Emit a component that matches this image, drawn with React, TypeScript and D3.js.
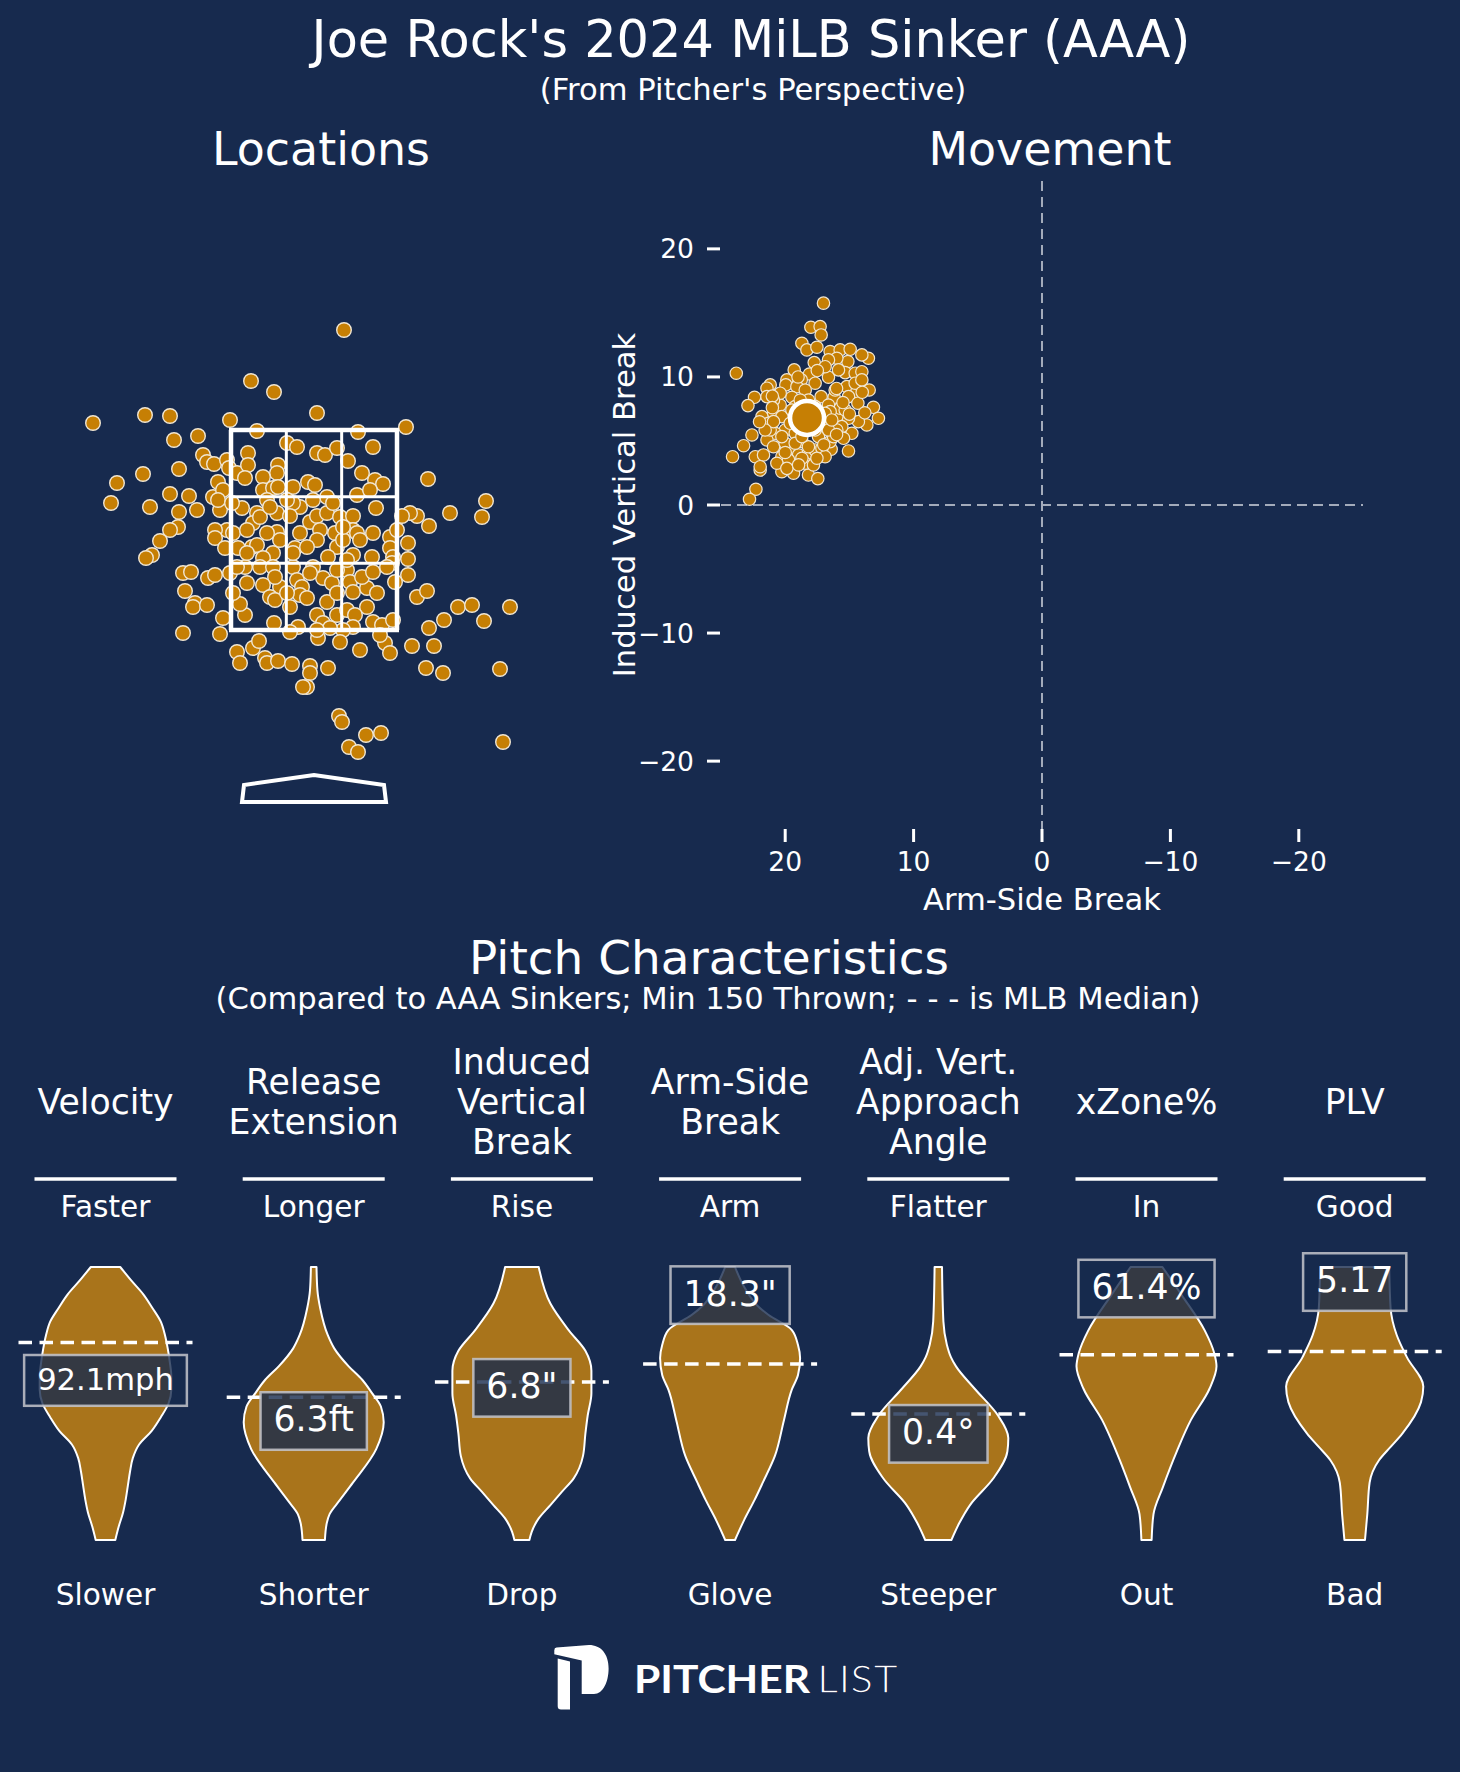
import React from 'react';
import * as d3 from 'd3';

const W = 1460;
const H = 1772;
const BG = '#172A4E';
const DOT = '#C67F04';
const VIOLIN = '#A9741B';
const FONT = "'DejaVu Sans', sans-serif";
const K = 1.02; // font size factor

// ---------- text ----------
const titleText = "Joe Rock's 2024 MiLB Sinker (AAA)";
const subtitleText = "(From Pitcher's Perspective)";
const sectionTitle = 'Pitch Characteristics';
const sectionSubtitle = '(Compared to AAA Sinkers; Min 150 Thrown; - - - is MLB Median)';

// ---------- Locations (plate_x, plate_z in feet) ----------
const locationPitches: [number, number][] = [
  [0.30, 4.50], [-0.63, 3.99], [-0.40, 3.88], [-2.21, 3.57], [-1.69, 3.65], [-1.44, 3.64], [0.03, 3.67],
  [-0.84, 3.60], [0.92, 3.53], [-0.57, 3.49], [0.44, 3.48], [-1.40, 3.40], [-1.16, 3.44], [-1.11, 3.25],
  [-1.07, 3.18], [-1.00, 3.16], [-1.71, 3.06], [-1.35, 3.11], [-1.97, 2.97], [-2.03, 2.77], [-1.64, 2.73],
  [-1.44, 2.86], [-1.25, 2.84], [-1.17, 2.70], [-1.35, 2.68], [-1.36, 2.53], [-1.44, 2.50], [-1.54, 2.39],
  [-1.62, 2.25], [-1.68, 2.22], [1.14, 3.01], [1.72, 2.79], [1.68, 2.63], [1.36, 2.67], [1.15, 2.54],
  [1.03, 2.64], [0.96, 2.67], [0.88, 2.64], [0.94, 2.37], [0.94, 2.21], [0.94, 2.05], [1.03, 1.83],
  [1.13, 1.89], [1.44, 1.73], [1.58, 1.75], [1.96, 1.73], [1.70, 1.59], [1.30, 1.60], [1.15, 1.52],
  [0.98, 1.34], [1.20, 1.34], [1.12, 1.12], [1.29, 1.07], [1.86, 1.11], [1.89, 0.38], [-1.31, 2.07],
  [-1.23, 2.08], [-1.29, 1.89], [-1.19, 1.77], [-1.21, 1.73], [-1.07, 1.75], [-1.31, 1.47], [-0.94, 1.46],
  [-0.91, 1.62], [-0.69, 1.65], [-0.74, 1.76], [-0.77, 1.28], [-0.74, 1.17], [-0.61, 1.32], [-0.55, 1.39],
  [-0.49, 1.22], [-0.47, 1.17], [-0.36, 1.19], [-0.22, 1.16], [-0.04, 1.14], [-0.04, 1.07], [-0.07, 0.93],
  [-0.11, 0.93], [0.14, 1.12], [0.46, 1.30], [0.71, 1.37], [0.76, 1.27], [0.25, 0.64], [0.28, 0.58],
  [0.52, 0.45], [0.67, 0.47], [0.35, 0.33], [0.44, 0.28], [-1.06, 2.02], [-0.99, 2.05], [-1.01, 2.83],
  [-0.96, 2.98], [-0.91, 2.90], [-0.87, 3.20], [-0.85, 3.12], [-0.77, 3.07], [-0.66, 3.27], [-0.66, 3.15],
  [-0.69, 3.02], [-0.27, 3.37], [-0.17, 3.33], [0.03, 3.27], [0.11, 3.25], [0.23, 3.32], [0.34, 3.19],
  [0.48, 3.07], [0.59, 3.33], [0.61, 3.00], [0.69, 2.96], [0.62, 2.72], [-0.36, 3.15], [-0.37, 3.07],
  [-0.51, 3.03], [-0.51, 2.90], [-0.41, 2.92], [-0.36, 2.93], [-0.21, 2.93], [-0.06, 2.98], [0.01, 2.95],
  [0.13, 2.83], [0.43, 2.85], [0.56, 2.90], [-0.14, 2.73], [-0.04, 2.58], [0.03, 2.64], [0.13, 2.67],
  [0.26, 2.63], [0.39, 2.64], [-0.47, 2.80], [-0.57, 2.67], [-0.72, 2.72], [-0.94, 2.70], [-0.96, 2.80],
  [-0.82, 2.77], [-0.61, 2.57], [-0.37, 2.67], [-0.37, 2.48], [-0.62, 2.33], [-0.57, 2.35], [-0.87, 2.50],
  [-0.99, 2.50], [-0.99, 2.42], [-0.89, 2.32], [-0.76, 2.32], [-0.81, 2.47], [-0.67, 2.50], [-0.47, 2.47],
  [-0.14, 2.47], [0.06, 2.50], [0.21, 2.47], [0.39, 2.50], [0.43, 2.47], [0.59, 2.47], [0.76, 2.43],
  [0.83, 2.50], [-0.19, 2.32], [0.03, 2.40], [0.23, 2.33], [0.29, 2.40], [0.39, 2.25], [0.58, 2.23],
  [0.76, 2.32], [0.79, 2.23], [0.78, 2.17], [-0.41, 2.27], [-0.51, 2.22], [-0.54, 2.13], [-0.41, 2.13],
  [-0.21, 2.13], [-0.17, 2.00], [-0.12, 1.93], [-0.14, 1.85], [-0.07, 1.82], [-0.34, 1.93], [-0.39, 2.03],
  [-0.51, 1.95], [-0.44, 1.83], [-0.39, 1.80], [-0.27, 1.87], [0.09, 2.02], [0.18, 1.97], [-0.01, 2.13],
  [0.14, 2.23], [0.33, 2.10], [0.36, 1.98], [0.39, 1.88], [0.53, 1.92], [0.48, 2.03], [0.59, 2.08],
  [0.81, 1.98], [0.53, 1.73], [0.73, 2.13], [0.23, 2.10], [0.13, 1.78], [0.03, 1.65], [0.09, 1.57],
  [0.04, 1.42], [0.23, 1.65], [0.33, 1.70], [0.41, 1.65], [0.39, 1.53], [0.29, 1.50], [0.26, 1.38],
  [0.16, 1.52], [0.03, 1.50], [-0.16, 1.53], [-0.24, 1.48], [-0.40, 1.57], [0.59, 1.58], [0.68, 1.55],
  [0.79, 1.60], [0.66, 1.45], [-0.21, 2.77], [-0.24, 2.64], [-0.07, 2.33], [-0.69, 2.13], [-0.84, 2.07],
  [-0.77, 2.13], [-0.54, 2.63], [-0.44, 2.73], [-0.27, 2.80], [-0.01, 2.80], [0.19, 2.77], [0.29, 2.53],
  [0.46, 2.40], [-0.34, 2.40], [-0.67, 2.27], [-0.21, 2.27], [-0.04, 2.07], [0.23, 1.87], [0.63, 1.87],
  [-0.24, 1.73], [0.33, 2.20], [-0.67, 1.97], [-0.81, 1.87],
];
const zoneX = [-0.83, 0.83];
const zoneZ = [1.5, 3.5];
const plateOutline: [number, number][] = [[-0.72, -0.22], [-0.7, -0.05], [0, 0.05], [0.7, -0.05], [0.72, -0.22]];

// ---------- Movement (arm-side break, induced vertical break in inches) ----------
const movementPitches: [number, number][] = [
  [17.02, 15.76], [18.0, 13.88], [17.28, 13.93], [17.2, 13.28], [18.7, 12.63], [18.31, 12.11], [17.53, 12.32],
  [16.5, 11.98], [15.72, 12.11], [14.94, 12.16], [13.52, 11.46], [14.03, 11.72], [15.12, 11.2], [15.98, 11.46],
  [16.63, 11.33], [17.74, 11.12], [19.3, 10.55], [18.11, 10.23], [16.63, 9.98], [15.33, 10.34], [14.55, 10.29],
  [14.03, 10.41], [23.81, 10.29], [15.85, 10.55], [19.87, 9.77], [18.75, 9.77], [17.67, 9.51], [21.17, 9.38],
  [21.42, 9.12], [22.39, 8.41], [22.9, 7.76], [19.95, 9.38], [19.09, 9.24], [18.44, 8.98], [19.48, 8.41],
  [17.2, 8.46], [16.19, 8.41], [15.2, 9.24], [14.42, 8.85], [13.46, 8.98], [15.07, 8.46], [14.34, 7.95],
  [13.13, 7.63], [12.74, 6.77], [13.64, 6.25], [14.3, 6.51], [14.81, 5.6], [15.07, 6.77], [15.98, 6.9],
  [15.59, 6.12], [21.81, 6.9], [20.91, 7.21], [20.39, 7.81], [21.3, 6.38], [20.0, 5.86], [20.78, 5.6],
  [21.42, 5.08], [22.59, 5.47], [23.24, 4.63], [24.1, 3.77], [22.33, 3.77], [21.69, 3.91], [20.26, 3.77],
  [19.48, 4.43], [18.96, 3.91], [18.19, 4.04], [17.67, 4.3], [16.42, 4.35], [16.5, 4.95], [15.07, 4.22],
  [20.26, 2.6], [19.35, 2.48], [18.19, 2.34], [17.46, 2.06], [21.95, 2.73], [21.95, 2.99], [22.28, 1.23],
  [22.78, 0.45], [20.91, 4.55], [20.0, 4.82], [18.7, 4.95], [17.41, 5.34], [16.24, 5.34], [15.72, 7.55],
  [16.63, 7.81], [17.02, 6.51], [17.67, 5.86], [19.22, 5.6], [19.74, 3.52], [18.44, 3.26], [17.8, 3.13],
  [20.65, 3.26], [21.17, 5.86], [19.22, 7.68], [20.26, 6.9], [15.33, 7.42], [16.5, 7.29], [18.83, 6.51],
  [17.14, 4.43], [18.7, 3.65], [15.98, 5.86], [16.63, 5.86], [15.46, 5.21], [14.55, 9.51], [14.03, 9.77],
  [16.89, 10.8], [16.11, 8.98], [18.19, 8.2], [18.83, 8.2], [17.67, 7.68], [20.39, 8.73], [20.91, 8.2],
  [21.42, 8.46], [19.22, 4.82], [18.19, 4.55], [19.61, 6.38], [20.91, 6.51], [21.56, 5.86], [16.89, 3.77],
  [17.53, 3.65], [19.87, 2.86], [18.96, 3.13], [19.48, 7.42], [16.89, 7.16], [18.7, 5.34], [20.26, 5.34],
  [16.37, 6.64], [16.0, 9.1], [15.5, 8.0], [17.5, 10.5], [19.0, 10.0], [21.0, 8.5], [20.0, 4.1],
  [17.0, 4.7], [16.0, 5.5], [15.0, 7.1], [14.0, 8.8], [13.8, 7.2], [22.0, 6.5], [21.0, 7.6],
];
const movementMean: [number, number] = [18.3, 6.8];
const movementTicks = [20, 10, 0, -10, -20];
const movementXLabel = 'Arm-Side Break';
const movementYLabel = 'Induced Vertical Break';

// ---------- Pitch characteristics ----------
const metricNames = [
  ['Velocity'], ['Release', 'Extension'], ['Induced', 'Vertical', 'Break'], ['Arm-Side', 'Break'],
  ['Adj. Vert.', 'Approach', 'Angle'], ['xZone%'], ['PLV'],
];
const topLabels = ['Faster', 'Longer', 'Rise', 'Arm', 'Flatter', 'In', 'Good'];
const bottomLabels = ['Slower', 'Shorter', 'Drop', 'Glove', 'Steeper', 'Out', 'Bad'];
const playerValues = [92.1, 6.3, 6.8, 18.3, 0.4, 61.4, 5.17];
const valueLabels = ['92.1mph', '6.3ft', '6.8"', '18.3"', '0.4°', '61.4%', '5.17'];
const medianValues = [93.9, 6.47, 7.35, 14.14, 0.53, 56.5, 4.57];
const rangeTop = [97.5, 7.4, 18, 20, 1.5, 63, 5.3];
const rangeBottom = [84.5, 5.45, -7.3, 3.5, -0.3, 42.75, 2.94];
// density profiles: [fraction from max (0) to min (1), relative density]
const velocityProfile: [number, number][] = [[0, .21], [.05, .37], [.1, .54], [.15, .67], [.2, .79], [.25, .85], [.3, .89], [.35, .92], [.4, .94], [.45, .94], [.5, .9], [.55, .79], [.6, .66], [.65, .48], [.7, .39], [.75, .35], [.8, .32], [.85, .29], [.9, .25], [.95, .19], [1, .14]];
const releaseProfile: [number, number][] = [[0, .04], [.085, .053], [.151, .093], [.249, .2], [.298, .293], [.364, .5], [.413, .693], [.462, .833], [.511, .96], [.569, 1], [.667, .893], [.79, .56], [.856, .367], [.905, .227], [.938, .187], [1, .16]];
const ivbProfile: [number, number][] = [[0, .24], [.134, .407], [.233, .673], [.307, .907], [.38, .993], [.462, .993], [.544, .94], [.61, .907], [.692, .873], [.774, .74], [.823, .573], [.872, .407], [.921, .24], [.97, .14], [1, .107]];
const armProfile: [number, number][] = [[0, .07], [.077, .21], [.139, .38], [.176, .55], [.23, .88], [.286, .97], [.333, 1], [.396, .97], [.45, .88], [.56, .77], [.692, .64], [.788, .47], [.853, .35], [.927, .2], [1, .07]];
const adjProfile: [number, number][] = [[0, .053], [.2, .073], [.282, .12], [.33, .18], [.364, .253], [.446, .52], [.544, .853], [.626, 1], [.675, .987], [.774, .787], [.872, .453], [.938, .3], [1, .187]];
const xzoneProfile: [number, number][] = [[0, .227], [.102, .5], [.233, .833], [.315, .967], [.364, 1], [.446, .9], [.561, .633], [.675, .433], [.807, .233], [.905, .1], [1, .073]];
const plvProfile: [number, number][] = [[0, .493], [.151, .513], [.249, .6], [.331, .747], [.438, .98], [.495, .947], [.61, .68], [.659, .513], [.708, .347], [.79, .213], [.905, .18], [1, .147]];
const violinProfiles = [velocityProfile, releaseProfile, ivbProfile, armProfile, adjProfile, xzoneProfile, plvProfile];

// ---------- helpers ----------
let measureCtx: CanvasRenderingContext2D | null = null;
function textWidth(s: string, size: number): number {
  if (!measureCtx && typeof document !== 'undefined') {
    measureCtx = document.createElement('canvas').getContext('2d');
  }
  if (!measureCtx) return s.length * size * 0.6;
  measureCtx.font = `${size}px "DejaVu Sans"`;
  return measureCtx.measureText(s).width;
}

function Locations() {
  const x = d3.scaleLinear().domain([-1, 1]).range([214, 414]);
  const z = d3.scaleLinear().domain([0, 4]).range([780, 380]);
  const xs = d3.range(4).map((i) => zoneX[0] + (i * (zoneX[1] - zoneX[0])) / 3);
  const zs = d3.range(4).map((i) => zoneZ[0] + (i * (zoneZ[1] - zoneZ[0])) / 3);
  const plateLine = d3.line<[number, number]>().x((d) => x(d[0])).y((d) => z(d[1]));
  return (
    <g>
      {locationPitches.map((p, i) => (
        <circle key={i} cx={x(p[0])} cy={z(p[1])} r={7.3} fill={DOT} stroke="#f1e6d2" strokeWidth={1.4} />
      ))}
      {xs.map((v, i) => (
        <line key={'vx' + i} x1={x(v)} x2={x(v)} y1={z(zoneZ[0])} y2={z(zoneZ[1])} stroke="#fff" strokeWidth={i === 0 || i === 3 ? 4.5 : 3} />
      ))}
      {zs.map((v, i) => (
        <line key={'hz' + i} x1={x(zoneX[0]) - 2} x2={x(zoneX[1]) + 2} y1={z(v)} y2={z(v)} stroke="#fff" strokeWidth={i === 0 || i === 3 ? 4.5 : 3} />
      ))}
      <path d={plateLine(plateOutline) + 'Z'} fill="none" stroke="#fff" strokeWidth={4} strokeLinejoin="miter" />
    </g>
  );
}

function Movement() {
  const x = d3.scaleLinear().domain([25, -25]).range([721, 1363]);
  const y = d3.scaleLinear().domain([-25.3, 25.3]).range([829, 181]);
  const dash = '10,6';
  const fmt = (t: number) => d3.format('d')(t).replace('-', '\u2212');
  return (
    <g fontFamily={FONT} fill="#fff">
      <line x1={x(25)} x2={x(-25)} y1={y(0)} y2={y(0)} stroke="#a3abbb" strokeWidth={2} strokeDasharray={dash} />
      <line x1={x(0)} x2={x(0)} y1={y(25.3)} y2={y(-25.3)} stroke="#a3abbb" strokeWidth={2} strokeDasharray={dash} />
      {movementTicks.map((t) => (
        <g key={'y' + t}>
          <line x1={707} x2={720} y1={y(t)} y2={y(t)} stroke="#fff" strokeWidth={3} />
          <text x={694} y={y(t) + 9.5} fontSize={26 * K} textAnchor="end">{fmt(t)}</text>
        </g>
      ))}
      {movementTicks.map((t) => (
        <g key={'x' + t}>
          <line x1={x(t)} x2={x(t)} y1={829} y2={842} stroke="#fff" strokeWidth={3} />
          <text x={x(t)} y={871} fontSize={26 * K} textAnchor="middle">{fmt(t)}</text>
        </g>
      ))}
      <text x={x(0)} y={910} fontSize={30 * K} textAnchor="middle">{movementXLabel}</text>
      <text transform={`translate(635, ${y(0)}) rotate(-90)`} fontSize={30 * K} textAnchor="middle">{movementYLabel}</text>
      {movementPitches.map((p, i) => (
        <circle key={i} cx={x(p[0])} cy={y(p[1])} r={6.2} fill={DOT} stroke="#f1e6d2" strokeWidth={1.2} />
      ))}
      <circle cx={x(movementMean[0])} cy={y(movementMean[1])} r={17} fill={DOT} stroke="#fff" strokeWidth={4.5} />
    </g>
  );
}

function Characteristics() {
  const cxScale = d3.scalePoint<number>().domain(d3.range(7)).range([1.4, 1458.8]).padding(0.5);
  const top = 1267;
  const bottom = 1540;
  const tScale = d3.scaleLinear().domain([0, 1]).range([top, bottom]);
  const wScale = d3.scaleLinear().domain([0, 1]).range([0, 70]);
  return (
    <g fontFamily={FONT} fill="#fff">
      <text x={709} y={974} fontSize={46 * K} textAnchor="middle">{sectionTitle}</text>
      <text x={708} y={1009} fontSize={30 * K} textAnchor="middle">{sectionSubtitle}</text>
      {metricNames.map((lines, i) => {
        const cx = cxScale(i) as number;
        const vScale = d3.scaleLinear().domain([rangeTop[i], rangeBottom[i]]).range([top, bottom]);
        const area = d3
          .area<[number, number]>()
          .y((d) => tScale(d[0]))
          .x0((d) => cx - wScale(d[1]))
          .x1((d) => cx + wScale(d[1]))
          .curve(d3.curveMonotoneY);
        const fs = (valueLabels[i].length > 5 ? 30 : 34) * K;
        const tw = textWidth(valueLabels[i], fs);
        const bw = tw + 26;
        const bh = fs * 1.66;
        const vy = vScale(playerValues[i]);
        const my = vScale(medianValues[i]);
        return (
          <g key={i}>
            {lines.map((ln, j) => (
              <text key={j} x={cx} y={1114 + (j - (lines.length - 1) / 2) * 40} fontSize={34 * K} textAnchor="middle">{ln}</text>
            ))}
            <line x1={cx - 71} x2={cx + 71} y1={1179} y2={1179} stroke="#fff" strokeWidth={3.5} />
            <text x={cx} y={1217} fontSize={29 * K} textAnchor="middle">{topLabels[i]}</text>
            <text x={cx} y={1605} fontSize={29 * K} textAnchor="middle">{bottomLabels[i]}</text>
            <path d={area(violinProfiles[i]) || ''} fill={VIOLIN} stroke="#fff" strokeWidth={2} strokeLinejoin="round" />
            <line x1={cx - 87} x2={cx + 87} y1={my} y2={my} stroke="#fff" strokeWidth={3.5} strokeDasharray="13.5,7.5" />
            <rect x={cx - bw / 2} y={vy - bh / 2} width={bw} height={bh} fill={BG} fillOpacity={0.8} stroke="#c4c6cc" strokeOpacity={0.85} strokeWidth={2.5} />
            <text x={cx} y={vy + fs * 0.3} fontSize={fs} textAnchor="middle">{valueLabels[i]}</text>
          </g>
        );
      })}
    </g>
  );
}

function Logo() {
  return (
    <g fill="#fff">
      <path d="M556.5,1647.6 Q554.3,1648 554.3,1650.2 L554.3,1654.3 L581.7,1660.4 L581.7,1694 L594,1694 C603,1694 608.6,1682 608.6,1668.5 C608.6,1654 601,1645 589,1645 Z" />
      <path d="M557.7,1658.6 L570,1661.4 L570,1709.5 L561,1709.5 Q557.7,1709.5 557.7,1706 Z" />
      <text x={634} y={1693.3} fontFamily="Lato, 'Open Sans', sans-serif" fontWeight={700} fontSize={39} textLength={176} lengthAdjust="spacingAndGlyphs">PITCHER</text>
      <text x={817} y={1693.3} fontFamily="Lato, 'Open Sans', sans-serif" fontWeight={400} fontSize={39} textLength={81} lengthAdjust="spacingAndGlyphs" stroke={BG} strokeWidth={1.6}>LIST</text>
    </g>
  );
}

export default function App() {
  return (
    <svg width={W} height={H} viewBox={`0 0 ${W} ${H}`} style={{ position: 'absolute', left: 0, top: 0, display: 'block' }}>
      <rect x={0} y={0} width={W} height={H} fill={BG} />
      <g fontFamily={FONT} fill="#fff" textAnchor="middle">
        <text x={751} y={57} fontSize={50 * K}>{titleText}</text>
        <text x={753} y={100} fontSize={30 * K}>{subtitleText}</text>
        <text x={321} y={165} fontSize={45 * K}>Locations</text>
        <text x={1050} y={165} fontSize={45 * K}>Movement</text>
      </g>
      <Locations />
      <Movement />
      <Characteristics />
      <Logo />
    </svg>
  );
}
